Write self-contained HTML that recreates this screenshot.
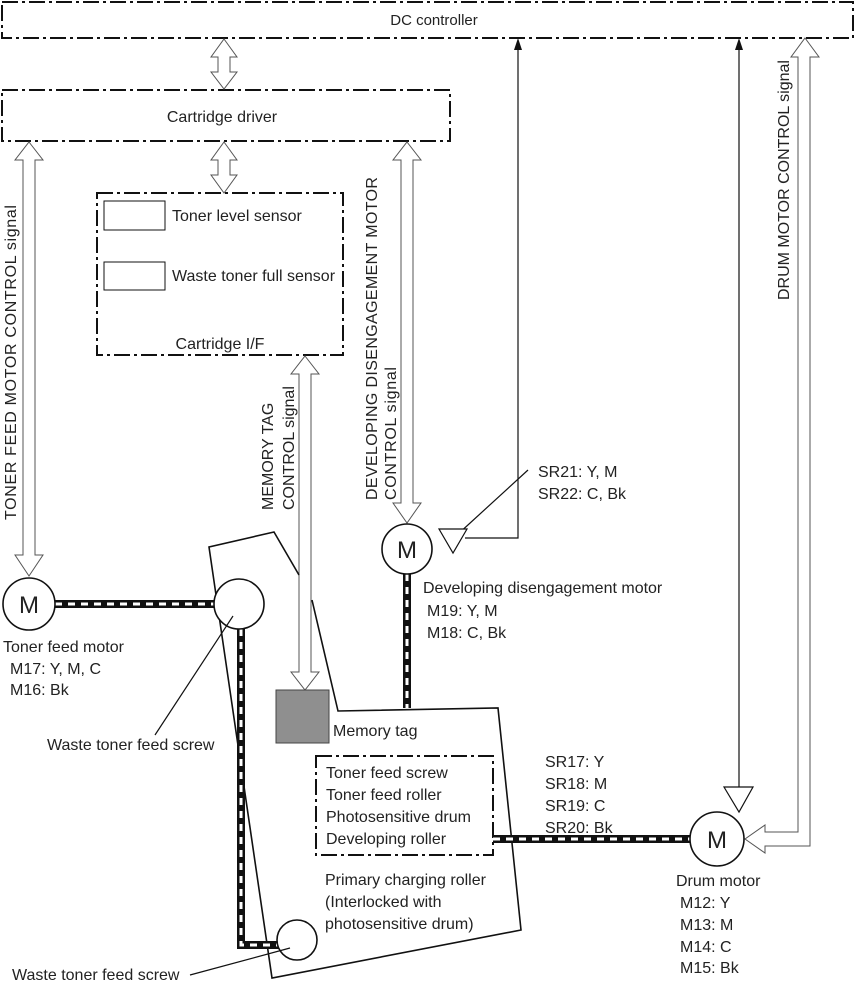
<!DOCTYPE html>
<html><head><meta charset="utf-8"><style>
html,body{margin:0;padding:0;background:#fff}
svg{display:block}
text{font-family:"Liberation Sans",Arial,sans-serif;font-size:16px;fill:#222}
</style></head><body>
<svg width="855" height="982" viewBox="0 0 855 982" xmlns="http://www.w3.org/2000/svg">
<g fill="none" stroke="#111" stroke-width="2" stroke-dasharray="16 4 3 4">
<rect x="2" y="2" width="851" height="36"/>
<rect x="2" y="90" width="448" height="51"/>
<rect x="97" y="193" width="246" height="162"/>
<rect x="316" y="756" width="177" height="99"/>
</g>
<text x="434" y="25" text-anchor="middle" style="font-size:15px">DC controller</text>
<text x="222" y="122" text-anchor="middle">Cartridge driver</text>
<rect x="104" y="201" width="61" height="29" fill="none" stroke="#111" stroke-width="1"/>
<rect x="104" y="262" width="61" height="28" fill="none" stroke="#111" stroke-width="1"/>
<text x="172" y="221">Toner level sensor</text>
<text x="172" y="281">Waste toner full sensor</text>
<text x="220" y="349" text-anchor="middle">Cartridge I/F</text>

<g fill="#fff" stroke="#555" stroke-width="1">
<polygon points="224,39 237,57 230,57 230,72 237,72 224,89 211,72 218,72 218,57 211,57"/>
<polygon points="224,142 237,160 230,160 230,175 237,175 224,193 211,175 218,175 218,160 211,160"/>
<polygon points="29,142 43,160 35,160 35,555 43,555 29,576 15,555 23,555 23,160 15,160"/>
<polygon points="305,356 319,374 311,374 311,672 319,672 305,690 291,672 299,672 299,374 291,374"/>
<polygon points="407,142 421,160 413,160 413,503 421,503 407,523 393,503 401,503 401,160 393,160"/>
<polygon points="805,38 819,57 810,57 810,846 765,846 765,853 745,839 765,825 765,832 798,832 798,57 791,57"/>
</g>

<text transform="translate(16,520) rotate(-90)" textLength="315" lengthAdjust="spacing">TONER FEED MOTOR CONTROL signal</text>
<text transform="translate(273,510) rotate(-90)">MEMORY TAG</text>
<text transform="translate(294,510) rotate(-90)">CONTROL signal</text>
<text transform="translate(377,500) rotate(-90)" textLength="323" lengthAdjust="spacing">DEVELOPING DISENGAGEMENT MOTOR</text>
<text transform="translate(396,500) rotate(-90)" textLength="133" lengthAdjust="spacing">CONTROL signal</text>
<text transform="translate(789,300) rotate(-90)" textLength="240" lengthAdjust="spacing">DRUM MOTOR CONTROL signal</text>

<g fill="none" stroke="#111" stroke-width="1.6">
<polyline points="299,575 274,532 209,547 272,978 521,930 498,708 338,711 312,600"/>
</g>

<g fill="none">
<polyline points="55,604 215,604" stroke="#111" stroke-width="8"/>
<polyline points="55,604 215,604" stroke="#fff" stroke-width="3" stroke-dasharray="7 6"/>
<polyline points="241,629 241,945 280,945" stroke="#111" stroke-width="8"/>
<polyline points="241,629 241,945 280,945" stroke="#fff" stroke-width="3" stroke-dasharray="7 6"/>
<polyline points="407,574 407,708" stroke="#111" stroke-width="8"/>
<polyline points="407,574 407,708" stroke="#fff" stroke-width="3" stroke-dasharray="7 6"/>
<polyline points="493,839 690,839" stroke="#111" stroke-width="8"/>
<polyline points="493,839 690,839" stroke="#fff" stroke-width="3" stroke-dasharray="7 6"/>
</g>

<g fill="#fff" stroke="#111" stroke-width="1.6">
<circle cx="29" cy="604" r="26"/>
<circle cx="239" cy="604" r="25"/>
<circle cx="297" cy="940" r="20"/>
<circle cx="407" cy="549" r="25"/>
<circle cx="717" cy="839" r="27"/>
</g>
<text x="29" y="613" text-anchor="middle" style="font-size:24px">M</text>
<text x="407" y="558" text-anchor="middle" style="font-size:24px">M</text>
<text x="717" y="848" text-anchor="middle" style="font-size:24px">M</text>

<rect x="276" y="690" width="53" height="53" fill="#8f8f8f" stroke="#444" stroke-width="1"/>
<text x="333" y="736">Memory tag</text>

<g fill="none" stroke="#111" stroke-width="1.2">
<polyline points="465,538 518,538 518,45"/>
<line x1="739" y1="45" x2="739" y2="787"/>
<line x1="457" y1="535" x2="528" y2="470"/>
<line x1="155" y1="735" x2="233" y2="616"/>
<line x1="190" y1="975" x2="290" y2="948"/>
</g>
<polygon points="518,38 514,50 522,50" fill="#111"/>
<polygon points="739,38 735,50 743,50" fill="#111"/>
<polygon points="439,529 467,529 453,553" fill="#fff" stroke="#111" stroke-width="1.2"/>
<polygon points="724,787 753,787 739,812" fill="#fff" stroke="#111" stroke-width="1.2"/>

<text x="538" y="477">SR21: Y, M</text>
<text x="538" y="499">SR22: C, Bk</text>
<text x="423" y="593">Developing disengagement motor</text>
<text x="427" y="616">M19: Y, M</text>
<text x="427" y="638">M18: C, Bk</text>
<text x="3" y="652">Toner feed motor</text>
<text x="10" y="674">M17: Y, M, C</text>
<text x="10" y="695">M16: Bk</text>
<text x="47" y="750">Waste toner feed screw</text>
<text x="12" y="980">Waste toner feed screw</text>
<text x="326" y="778">Toner feed screw</text>
<text x="326" y="800">Toner feed roller</text>
<text x="326" y="822">Photosensitive drum</text>
<text x="326" y="844">Developing roller</text>
<text x="545" y="767">SR17: Y</text>
<text x="545" y="789">SR18: M</text>
<text x="545" y="811">SR19: C</text>
<text x="545" y="833">SR20: Bk</text>
<text x="325" y="885">Primary charging roller</text>
<text x="325" y="907">(Interlocked with</text>
<text x="325" y="929">photosensitive drum)</text>
<text x="676" y="886">Drum motor</text>
<text x="680" y="908">M12: Y</text>
<text x="680" y="930">M13: M</text>
<text x="680" y="952">M14: C</text>
<text x="680" y="973">M15: Bk</text>
</svg>
</body></html>
